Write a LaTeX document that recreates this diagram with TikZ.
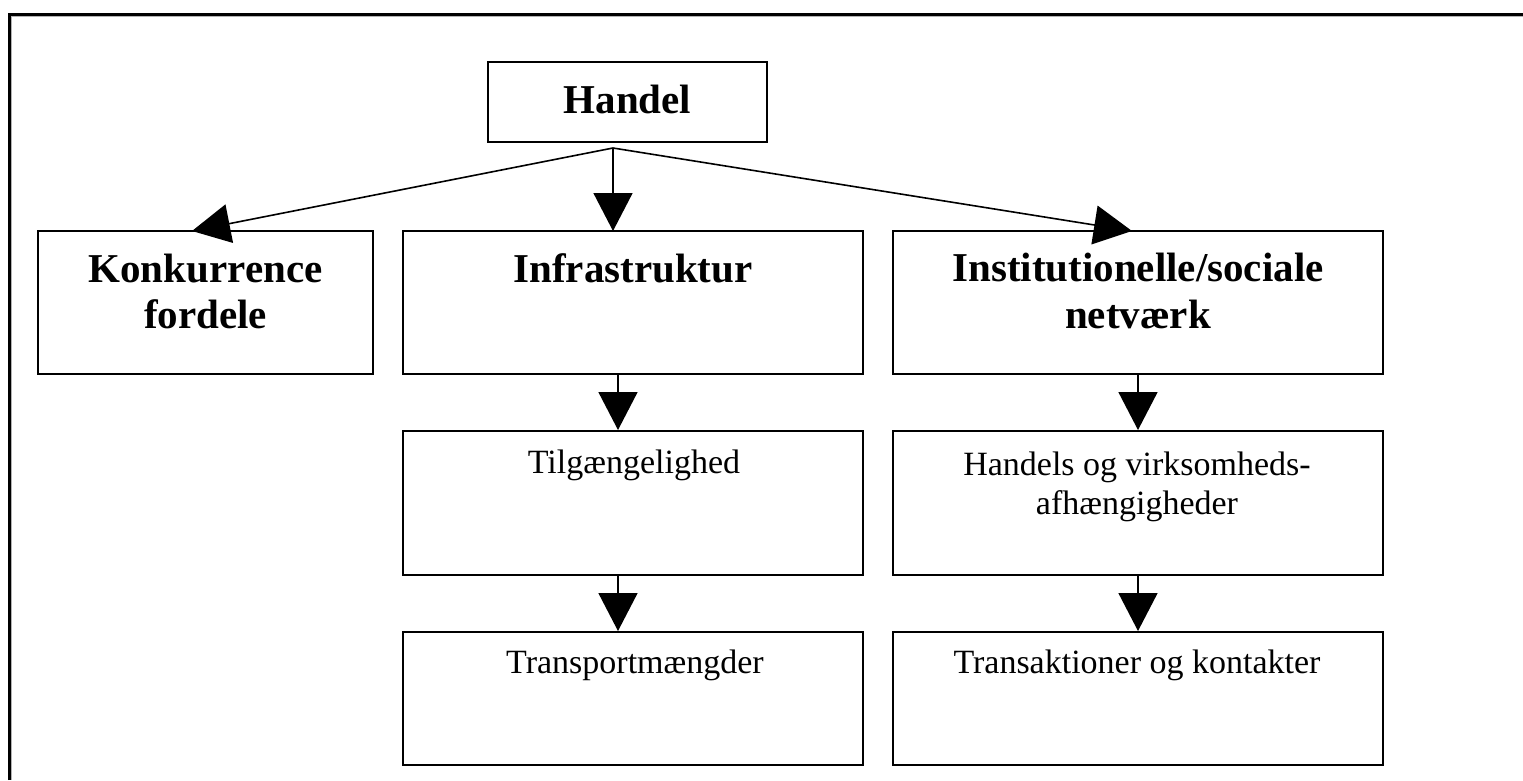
\documentclass[tikz,border=0pt]{standalone}
\usepackage{fontspec}
\setmainfont{Liberation Serif}
\usetikzlibrary{arrows.meta}
\tikzset{
  boxnode/.style={draw=black, line width=2pt, rectangle, inner sep=0pt},
  boldtxt/.style={anchor=base, inner sep=0pt, font=\fontsize{41}{46}\selectfont\bfseries},
  plaintxt/.style={anchor=base, inner sep=0pt, font=\fontsize{34}{40}\selectfont},
  conn/.style={line width=1.6pt, -{Triangle[width=39pt,length=38pt]}},
}
\begin{document}
\begin{tikzpicture}[x=1pt,y=-1pt]
\useasboundingbox (0,0) rectangle (1523,780);
% outer frame (top and left only)
\draw[line width=3pt] (9.5,780) -- (9.5,14.5) -- (1523,14.5);
\draw[line width=1pt, gray!60] (11.5,780) -- (11.5,16.5) -- (1523,16.5);
% boxes
\node[boxnode, minimum width=279pt, minimum height=80pt] (handel) at (627.5,102) {};
\node[boxnode, minimum width=335pt, minimum height=143pt] (konk) at (205.5,302.5) {};
\node[boxnode, minimum width=460pt, minimum height=143pt] (infra) at (633,302.5) {};
\node[boxnode, minimum width=490pt, minimum height=143pt] (inst) at (1138,302.5) {};
\node[boxnode, minimum width=460pt, minimum height=144pt] (tilg) at (633,503) {};
\node[boxnode, minimum width=460pt, minimum height=133pt] (transp) at (633,698.5) {};
\node[boxnode, minimum width=490pt, minimum height=144pt] (handv) at (1138,503) {};
\node[boxnode, minimum width=490pt, minimum height=133pt] (transk) at (1138,698.5) {};
% texts
\node[boldtxt] (thandel) at (627.5,113) {Handel};
\node[boldtxt] (tkonk1) at (205.5,282) {Konkurrence};
\node[boldtxt] (tkonk2) at (205.5,328) {fordele};
\node[boldtxt] (tinfra) at (633,282) {Infrastruktur};
\node[boldtxt] (tinst1) at (1138,281) {Institutionelle/sociale};
\node[boldtxt] (tinst2) at (1138,328) {netværk};
\node[plaintxt] (ttilg) at (634,473) {Tilgængelighed};
\node[plaintxt] (ttransp) at (635,673) {Transportmængder};
\node[plaintxt] (thandv1) at (1137,475) {Handels og virksomheds-};
\node[plaintxt] (thandv2) at (1137,514) {afhængigheder};
\node[plaintxt] (ttransk) at (1137,673) {Transaktioner og kontakter};
% connectors
\coordinate (hs) at (613,148);
\coordinate (ek) at (192,231);
\coordinate (ei) at (613,231);
\coordinate (en) at (1132,231);
\draw[conn] (hs) -- (ek);
\draw[conn] (hs) -- (ei);
\draw[conn] (hs) -- (en);
\draw[conn] (618,0 |- infra.south) -- (618,0 |- tilg.north);
\draw[conn] (618,0 |- tilg.south) -- (618,0 |- transp.north);
\draw[conn] (inst.south) -- (handv.north);
\draw[conn] (handv.south) -- (transk.north);
\end{tikzpicture}
\end{document}
